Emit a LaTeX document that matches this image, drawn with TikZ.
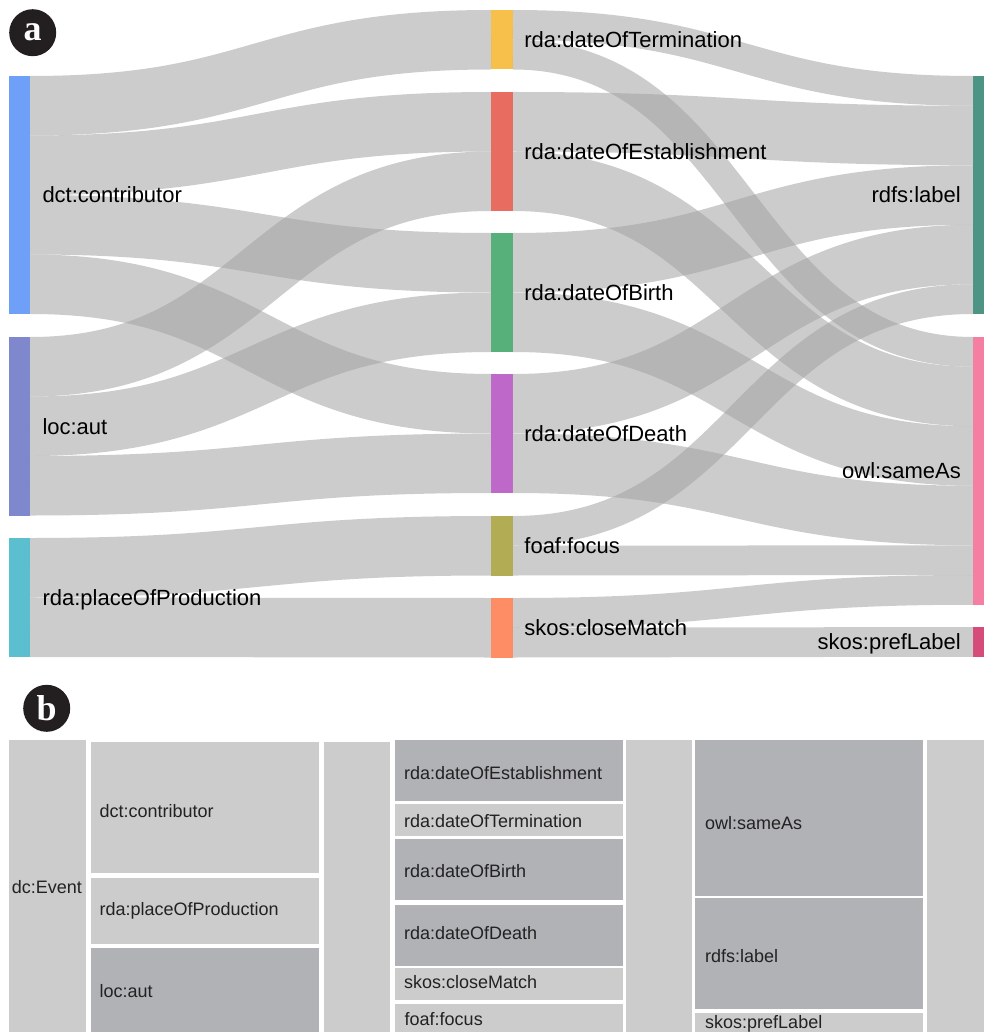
\documentclass[tikz,border=0pt]{standalone}
\usepackage{fontspec}
\setmainfont{Liberation Sans}
\newfontfamily\badgefont{Liberation Serif}

% node colours of the flow diagram
\definecolor{cContrib}{HTML}{6FA0F8}
\definecolor{cAut}{HTML}{7F87CD}
\definecolor{cPlace}{HTML}{5BBFD0}
\definecolor{cTerm}{HTML}{F6C04A}
\definecolor{cEst}{HTML}{E86C5F}
\definecolor{cBirth}{HTML}{57B07A}
\definecolor{cDeath}{HTML}{BE69C9}
\definecolor{cFocus}{HTML}{B2AD55}
\definecolor{cClose}{HTML}{FE8C64}
\definecolor{cLabel}{HTML}{4D9484}
\definecolor{cSame}{HTML}{F57FA3}
\definecolor{cPref}{HTML}{D54B7A}
% flows, badges and tiles
\definecolor{flowgray}{RGB}{162,162,162}
\definecolor{badgeblack}{HTML}{231F20}
\definecolor{tileLight}{HTML}{CCCCCC}
\definecolor{tileDark}{HTML}{B1B2B6}
\definecolor{tileText}{HTML}{222222}

\tikzset{
  flow/.style={draw=flowgray, draw opacity=0.55, line cap=butt},
  bar/.style={draw=none, inner sep=0pt, outer sep=0pt, anchor=north west},
  flowlab/.style={inner sep=0pt, font=\fontsize{22}{26}\selectfont, text=black},
  tile/.style={draw=none, inner sep=0pt, outer sep=0pt, anchor=north west},
  tilelab/.style={inner sep=0pt, anchor=base west, font=\fontsize{18}{22}\selectfont, text=tileText},
  badge/.style={circle, fill=badgeblack, text=white, inner sep=0pt, minimum size=47pt,
    font=\badgefont\bfseries\fontsize{36}{36}\selectfont},
}

% #1 source node, #2 offset of band centre below its top,
% #3 target node, #4 offset below its top, #5 band width, #6 half horizontal span
\newcommand\flowband[6]{%
  \draw[flow, line width=#5pt] ([yshift=-#2pt]#1.north east)
    .. controls +(#6,0) and +(-#6,0) .. ([yshift=-#4pt]#3.north west);}

\begin{document}
\begin{tikzpicture}[x=1pt, y=-1pt]
\useasboundingbox (0,0) rectangle (984,1032);

% ---------- panel a: flow diagram ----------
% first column
\node[bar, fill=cContrib, minimum width=21pt, minimum height=238pt]   (contrib) at (9,76) {};
\node[bar, fill=cAut,     minimum width=21pt, minimum height=178.5pt] (aut)     at (9,337) {};
\node[bar, fill=cPlace,   minimum width=21pt, minimum height=119pt]   (place)   at (9,538) {};
% second column
\node[bar, fill=cTerm,  minimum width=22pt, minimum height=59.5pt] (term)  at (491,10) {};
\node[bar, fill=cEst,   minimum width=22pt, minimum height=119pt]  (est)   at (491,92) {};
\node[bar, fill=cBirth, minimum width=22pt, minimum height=119pt]  (birth) at (491,233) {};
\node[bar, fill=cDeath, minimum width=22pt, minimum height=119pt]  (death) at (491,374) {};
\node[bar, fill=cFocus, minimum width=22pt, minimum height=59.5pt] (focus) at (491,516) {};
\node[bar, fill=cClose, minimum width=22pt, minimum height=59.5pt] (close) at (491,598) {};
% third column
\node[bar, fill=cLabel, minimum width=11pt, minimum height=238pt]    (label)  at (973,76) {};
\node[bar, fill=cSame,  minimum width=11pt, minimum height=267.75pt] (sameas) at (973,337) {};
\node[bar, fill=cPref,  minimum width=11pt, minimum height=29.75pt]  (pref)   at (973,627) {};

% flows from the first to the second column
\flowband{contrib}{29.75}{term}{29.75}{59.5}{230.5}
\flowband{contrib}{89.25}{est}{29.75}{59.5}{230.5}
\flowband{contrib}{148.75}{birth}{29.75}{59.5}{230.5}
\flowband{contrib}{208.25}{death}{29.75}{59.5}{230.5}
\flowband{aut}{29.75}{est}{89.25}{59.5}{230.5}
\flowband{aut}{89.25}{birth}{89.25}{59.5}{230.5}
\flowband{aut}{148.75}{death}{89.25}{59.5}{230.5}
\flowband{place}{29.75}{focus}{29.75}{59.5}{230.5}
\flowband{place}{89.25}{close}{29.75}{59.5}{230.5}
% flows from the second to the third column
\flowband{term}{14.875}{label}{14.875}{29.75}{230}
\flowband{term}{44.625}{sameas}{14.875}{29.75}{230}
\flowband{est}{29.75}{label}{59.5}{59.5}{230}
\flowband{est}{89.25}{sameas}{59.5}{59.5}{230}
\flowband{birth}{29.75}{label}{119}{59.5}{230}
\flowband{birth}{89.25}{sameas}{119}{59.5}{230}
\flowband{death}{29.75}{label}{178.5}{59.5}{230}
\flowband{death}{89.25}{sameas}{178.5}{59.5}{230}
\flowband{focus}{14.875}{label}{223.125}{29.75}{230}
\flowband{focus}{44.625}{sameas}{223.125}{29.75}{230}
\flowband{close}{14.875}{sameas}{252.875}{29.75}{230}
\flowband{close}{44.625}{pref}{14.875}{29.75}{230}

% node labels
\node[flowlab, anchor=base west] (contribL) at (42.3,202.7) {dct:contributor};
\node[flowlab, anchor=base west] (autL)     at (42.3,434) {loc:aut};
\node[flowlab, anchor=base west] (placeL)   at (42.3,605.2) {rda:placeOfProduction};
\node[flowlab, anchor=base west] (termL)  at (524.2,47.5) {rda:dateOfTermination};
\node[flowlab, anchor=base west] (estL)   at (524.2,159.2) {rda:dateOfEstablishment};
\node[flowlab, anchor=base west] (birthL) at (524.2,300.2) {rda:dateOfBirth};
\node[flowlab, anchor=base west] (deathL) at (524.2,441.2) {rda:dateOfDeath};
\node[flowlab, anchor=base west] (focusL) at (524.2,553.5) {foaf:focus};
\node[flowlab, anchor=base west] (closeL) at (524.2,635.2) {skos:closeMatch};
\node[flowlab, anchor=base east] (labelL)  at (961,202.7) {rdfs:label};
\node[flowlab, anchor=base east] (sameasL) at (961,478.6) {owl:sameAs};
\node[flowlab, anchor=base east] (prefL)   at (961,649.7) {skos:prefLabel};

\node[badge] (badgeA) at (32.7,32.7) {a};

% ---------- panel b: tiles ----------
\node[badge] (badgeB) at (46.7,708.3) {b};

\node[tile, fill=tileLight, minimum width=77pt, minimum height=292pt] (event) at (9,740) {};

\node[tile, fill=tileLight, minimum width=228pt, minimum height=130.4pt] (contribT) at (91,742.3) {};
\node[tile, fill=tileLight, minimum width=228pt, minimum height=65.4pt]  (placeT)   at (91,878.3) {};
\node[tile, fill=tileDark,  minimum width=228pt, minimum height=83.7pt]  (autT)     at (91,948.3) {};

\node[tile, fill=tileLight, minimum width=66pt, minimum height=289.7pt] (gapA) at (324,742.3) {};

\node[tile, fill=tileDark,  minimum width=228pt, minimum height=60.7pt] (estT)   at (395,740) {};
\node[tile, fill=tileLight, minimum width=228pt, minimum height=31.4pt] (termT)  at (395,804.3) {};
\node[tile, fill=tileDark,  minimum width=228pt, minimum height=60.4pt] (birthT) at (395,839.3) {};
\node[tile, fill=tileDark,  minimum width=228pt, minimum height=60.7pt] (deathT) at (395,905) {};
\node[tile, fill=tileLight, minimum width=228pt, minimum height=31.2pt] (closeT) at (395,968.3) {};
\node[tile, fill=tileLight, minimum width=228pt, minimum height=27.7pt] (focusT) at (395,1004.3) {};

\node[tile, fill=tileLight, minimum width=66pt, minimum height=292pt] (gapB) at (626,740) {};

\node[tile, fill=tileDark,  minimum width=228pt, minimum height=155.7pt] (sameasT) at (695,740) {};
\node[tile, fill=tileDark,  minimum width=228pt, minimum height=111.3pt] (labelT)  at (695,897.7) {};
\node[tile, fill=tileLight, minimum width=228pt, minimum height=19.3pt]  (prefT)   at (695,1012.7) {};

\node[tile, fill=tileLight, minimum width=57pt, minimum height=292pt] (gapC) at (927,740) {};

% tile labels
\node[tilelab] (eventTL)   at (11.7,893.3) {dc:Event};
\node[tilelab] (contribTL) at (99.4,817.7) {dct:contributor};
\node[tilelab] (placeTL)   at (99.4,915.7) {rda:placeOfProduction};
\node[tilelab] (autTL)     at (99.4,997.7) {loc:aut};
\node[tilelab] (estTL)   at (403.8,779) {rda:dateOfEstablishment};
\node[tilelab] (termTL)  at (403.8,827.7) {rda:dateOfTermination};
\node[tilelab] (birthTL) at (403.8,877.7) {rda:dateOfBirth};
\node[tilelab] (deathTL) at (403.8,939.3) {rda:dateOfDeath};
\node[tilelab] (closeTL) at (403.8,988.3) {skos:closeMatch};
\node[tilelab] (focusTL) at (404.5,1025) {foaf:focus};
\node[tilelab] (sameasTL) at (705,829) {owl:sameAs};
\node[tilelab] (labelTL)  at (705,962) {rdfs:label};
\node[tilelab] (prefTL)   at (705,1028.3) {skos:prefLabel};
\end{tikzpicture}
\end{document}
